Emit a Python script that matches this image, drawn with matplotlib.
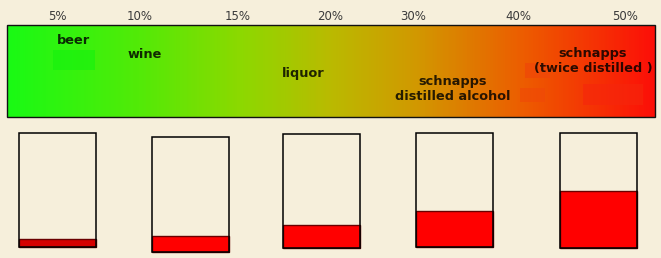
import matplotlib.pyplot as plt
import numpy as np
from matplotlib.colors import LinearSegmentedColormap
from matplotlib.patches import Rectangle

# Escala de graduación (etiquetas y su posición a lo largo de la barra, en px)
tick_labels = ['5%', '10%', '15%', '20%', '30%', '40%', '50%']
tick_pos = [57, 140, 238, 330, 413, 518, 625]

# Bebidas sobre la barra
drinks = ['beer', 'wine', 'liquor', 'schnapps\ndistilled alcohol', 'schnapps\n(twice distilled )']
drink_x = [73, 145, 303, 453, 593]
drink_y = [40, 54, 74, 89, 61]

# Vasos: porcentaje lleno
glass_fill = np.array([7, 14, 20, 32, 50])
glass_x = np.array([57.5, 190.5, 321, 454, 598])
glass_top = np.array([133, 137, 134, 133, 133])
glass_bottom = np.array([247, 252, 248, 247, 248])
glass_w = 77
fill_colors = ['#D40000', '#FF0000', '#FF0000', '#FF0000', '#FF0000']

bg = '#F6EFDB'
fig = plt.figure(figsize=(6.61, 2.58), dpi=100)
fig.patch.set_facecolor(bg)
ax = fig.add_axes([0, 0, 1, 1])
ax.set_facecolor(bg)
ax.set_xlim(0, 661)
ax.set_ylim(258, 0)
ax.axis('off')

# Barra de degradado verde -> rojo
x0, x1, y0, y1 = 7, 655, 25, 117
stops = [(0.0, (0.10, 0.98, 0.08)), (0.2, (0.32, 0.92, 0.03)),
         (0.36, (0.55, 0.85, 0.0)), (0.5, (0.73, 0.73, 0.0)),
         (0.63, (0.82, 0.60, 0.0)), (0.8, (0.93, 0.36, 0.0)),
         (1.0, (0.99, 0.06, 0.03))]
cmap = LinearSegmentedColormap.from_list('alc', stops)
grad = np.linspace(0, 1, 600).reshape(1, -1)
ax.imshow(grad, extent=(x0, x1, y1, y0), aspect='auto', cmap=cmap, zorder=1)
ax.add_patch(Rectangle((x0, y0), x1 - x0, y1 - y0, fill=False, ec='#111111', lw=1, zorder=3))

# manchas tenues que hay en la imagen original
for (rx, ry, rw, rh, c) in [(53, 50, 42, 20, '#14F20E'), (520, 88, 25, 14, '#F04808'),
                             (583, 84, 60, 21, '#F6260C'), (525, 63, 25, 15, '#F0440A')]:
    ax.add_patch(Rectangle((rx, ry), rw, rh, color=c, lw=0, alpha=0.6, zorder=2))

for lab, px in zip(tick_labels, tick_pos):
    ax.text(px, 16, lab, ha='center', va='center', fontsize=8.5, color='#3a3a3a')

for lab, px, py in zip(drinks, drink_x, drink_y):
    ax.text(px, py, lab, ha='center', va='center', fontsize=9.3, fontweight='bold',
            color='black', alpha=0.82, linespacing=1.25, zorder=4)

# Vasos
fill_h = (glass_bottom - glass_top) * glass_fill / 100
ax.bar(glass_x, -fill_h, bottom=glass_bottom, width=glass_w, color=fill_colors,
       edgecolor='#6A0000', linewidth=1, zorder=2)
ax.bar(glass_x, glass_top - glass_bottom, bottom=glass_bottom, width=glass_w,
       fill=False, edgecolor='black', linewidth=1.1, zorder=3)

plt.savefig('out.png', dpi=100, facecolor=bg)
